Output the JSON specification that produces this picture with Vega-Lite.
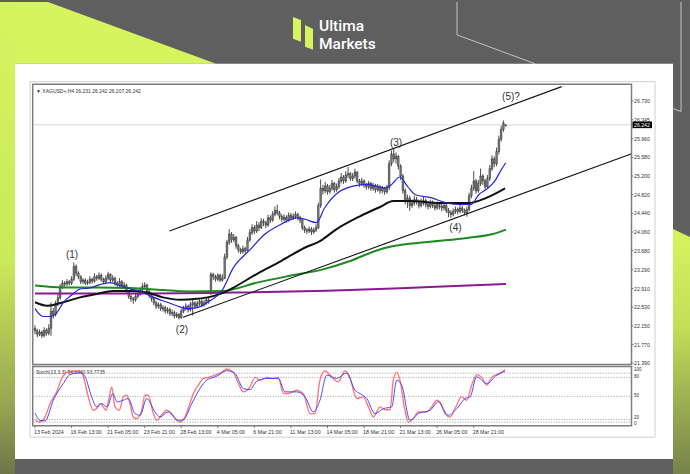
{
"$schema":"https://vega.github.io/schema/vega-lite/v6.json",
"width":690,"height":474,"padding":0,
"autosize":{"type":"fit","contains":"padding"},
"background":"#5f5f5f",
"config":{"view":{"stroke":null},"text":{"font":"Liberation Sans"}},
"resolve":{"scale":{"x":"independent","y":"independent"}},
"datasets":{
"candles":[
{"i":0,"o":22.10,"h":22.16,"l":21.98,"c":22.05},{"i":1,"o":22.05,"h":22.09,"l":21.92,"c":21.98},{"i":2,"o":21.98,"h":22.08,"l":21.94,"c":22.02},{"i":3,"o":22.02,"h":22.05,"l":21.90,"c":21.95},{"i":4,"o":21.95,"h":22.12,"l":21.92,"c":22.06},{"i":5,"o":22.06,"h":22.10,"l":21.95,"c":22.00},{"i":6,"o":22.00,"h":22.18,"l":21.96,"c":22.10},{"i":7,"o":22.10,"h":22.63,"l":21.95,"c":22.45},{"i":8,"o":22.45,"h":22.52,"l":22.30,"c":22.38},{"i":9,"o":22.38,"h":22.66,"l":22.34,"c":22.60},
{"i":10,"o":22.60,"h":22.80,"l":22.55,"c":22.72},{"i":11,"o":22.72,"h":23.00,"l":22.68,"c":22.95},{"i":12,"o":22.95,"h":23.08,"l":22.90,"c":23.02},{"i":13,"o":23.02,"h":23.06,"l":22.94,"c":23.00},{"i":14,"o":23.00,"h":23.10,"l":22.96,"c":23.05},{"i":15,"o":23.05,"h":23.08,"l":22.97,"c":23.02},{"i":16,"o":23.02,"h":23.16,"l":22.98,"c":23.10},{"i":17,"o":23.10,"h":23.44,"l":23.06,"c":23.36},{"i":18,"o":23.36,"h":23.40,"l":23.16,"c":23.22},{"i":19,"o":23.22,"h":23.26,"l":23.10,"c":23.15},
{"i":20,"o":23.15,"h":23.18,"l":23.00,"c":23.05},{"i":21,"o":23.05,"h":23.12,"l":23.00,"c":23.08},{"i":22,"o":23.08,"h":23.12,"l":22.98,"c":23.02},{"i":23,"o":23.02,"h":23.09,"l":22.98,"c":23.04},{"i":24,"o":23.04,"h":23.16,"l":23.00,"c":23.10},{"i":25,"o":23.10,"h":23.13,"l":23.01,"c":23.06},{"i":26,"o":23.06,"h":23.22,"l":23.03,"c":23.15},{"i":27,"o":23.15,"h":23.19,"l":23.07,"c":23.12},{"i":28,"o":23.12,"h":23.24,"l":23.08,"c":23.18},{"i":29,"o":23.18,"h":23.22,"l":23.05,"c":23.10},
{"i":30,"o":23.10,"h":23.13,"l":23.00,"c":23.05},{"i":31,"o":23.05,"h":23.18,"l":23.02,"c":23.12},{"i":32,"o":23.12,"h":23.25,"l":23.08,"c":23.20},{"i":33,"o":23.20,"h":23.22,"l":23.03,"c":23.08},{"i":34,"o":23.08,"h":23.18,"l":23.04,"c":23.12},{"i":35,"o":23.12,"h":23.15,"l":22.97,"c":23.02},{"i":36,"o":23.02,"h":23.06,"l":22.92,"c":22.98},{"i":37,"o":22.98,"h":23.12,"l":22.94,"c":23.05},{"i":38,"o":23.05,"h":23.08,"l":22.90,"c":22.95},{"i":39,"o":22.95,"h":23.04,"l":22.90,"c":22.98},
{"i":40,"o":22.98,"h":23.01,"l":22.80,"c":22.85},{"i":41,"o":22.85,"h":22.88,"l":22.70,"c":22.75},{"i":42,"o":22.75,"h":22.79,"l":22.64,"c":22.70},{"i":43,"o":22.70,"h":22.74,"l":22.60,"c":22.68},{"i":44,"o":22.68,"h":22.80,"l":22.64,"c":22.75},{"i":45,"o":22.75,"h":22.86,"l":22.71,"c":22.80},{"i":46,"o":22.80,"h":22.93,"l":22.76,"c":22.88},{"i":47,"o":22.88,"h":23.02,"l":22.84,"c":22.95},{"i":48,"o":22.95,"h":23.04,"l":22.90,"c":22.98},{"i":49,"o":22.98,"h":23.01,"l":22.80,"c":22.85},
{"i":50,"o":22.85,"h":22.89,"l":22.72,"c":22.78},{"i":51,"o":22.78,"h":22.82,"l":22.64,"c":22.70},{"i":52,"o":22.70,"h":22.74,"l":22.57,"c":22.62},{"i":53,"o":22.62,"h":22.66,"l":22.49,"c":22.55},{"i":54,"o":22.55,"h":22.63,"l":22.50,"c":22.58},{"i":55,"o":22.58,"h":22.62,"l":22.45,"c":22.50},{"i":56,"o":22.50,"h":22.57,"l":22.44,"c":22.52},{"i":57,"o":22.52,"h":22.56,"l":22.40,"c":22.45},{"i":58,"o":22.45,"h":22.53,"l":22.40,"c":22.48},{"i":59,"o":22.48,"h":22.52,"l":22.35,"c":22.40},
{"i":60,"o":22.40,"h":22.48,"l":22.35,"c":22.42},{"i":61,"o":22.42,"h":22.46,"l":22.30,"c":22.35},{"i":62,"o":22.35,"h":22.43,"l":22.31,"c":22.38},{"i":63,"o":22.38,"h":22.41,"l":22.28,"c":22.32},{"i":64,"o":22.32,"h":22.50,"l":22.29,"c":22.45},{"i":65,"o":22.45,"h":22.56,"l":22.41,"c":22.50},{"i":66,"o":22.50,"h":22.61,"l":22.46,"c":22.55},{"i":67,"o":22.55,"h":22.58,"l":22.42,"c":22.48},{"i":68,"o":22.48,"h":22.64,"l":22.44,"c":22.58},{"i":69,"o":22.58,"h":22.68,"l":22.36,"c":22.62},
{"i":70,"o":22.62,"h":22.65,"l":22.50,"c":22.55},{"i":71,"o":22.55,"h":22.66,"l":22.51,"c":22.60},{"i":72,"o":22.60,"h":22.71,"l":22.56,"c":22.65},{"i":73,"o":22.65,"h":22.69,"l":22.53,"c":22.58},{"i":74,"o":22.58,"h":22.68,"l":22.54,"c":22.62},{"i":75,"o":22.62,"h":22.73,"l":22.58,"c":22.68},{"i":76,"o":22.68,"h":22.74,"l":22.60,"c":22.65},{"i":77,"o":22.80,"h":23.24,"l":22.78,"c":23.20},{"i":78,"o":23.20,"h":23.23,"l":23.08,"c":23.15},{"i":79,"o":23.15,"h":23.19,"l":23.05,"c":23.10},
{"i":80,"o":23.10,"h":23.22,"l":23.06,"c":23.18},{"i":81,"o":23.18,"h":23.21,"l":23.04,"c":23.08},{"i":82,"o":23.08,"h":23.20,"l":23.05,"c":23.12},{"i":83,"o":23.12,"h":23.62,"l":23.10,"c":23.55},{"i":84,"o":23.55,"h":23.90,"l":23.50,"c":23.85},{"i":85,"o":23.85,"h":24.12,"l":23.80,"c":24.02},{"i":86,"o":24.02,"h":24.06,"l":23.84,"c":23.90},{"i":87,"o":23.90,"h":24.02,"l":23.85,"c":23.95},{"i":88,"o":23.95,"h":23.98,"l":23.72,"c":23.78},{"i":89,"o":23.78,"h":23.82,"l":23.64,"c":23.70},
{"i":90,"o":23.70,"h":23.74,"l":23.61,"c":23.66},{"i":91,"o":23.66,"h":23.78,"l":23.62,"c":23.72},{"i":92,"o":23.72,"h":23.76,"l":23.62,"c":23.68},{"i":93,"o":23.68,"h":23.96,"l":23.66,"c":23.90},{"i":94,"o":23.90,"h":24.12,"l":23.86,"c":24.05},{"i":95,"o":24.05,"h":24.22,"l":24.00,"c":24.15},{"i":96,"o":24.15,"h":24.20,"l":24.02,"c":24.08},{"i":97,"o":24.08,"h":24.28,"l":24.04,"c":24.20},{"i":98,"o":24.20,"h":24.26,"l":24.08,"c":24.15},{"i":99,"o":24.15,"h":24.34,"l":24.12,"c":24.28},
{"i":100,"o":24.28,"h":24.33,"l":24.18,"c":24.25},{"i":101,"o":24.25,"h":24.29,"l":24.14,"c":24.20},{"i":102,"o":24.20,"h":24.41,"l":24.17,"c":24.35},{"i":103,"o":24.35,"h":24.40,"l":24.24,"c":24.30},{"i":104,"o":24.30,"h":24.48,"l":24.27,"c":24.42},{"i":105,"o":24.42,"h":24.58,"l":24.38,"c":24.50},{"i":106,"o":24.50,"h":24.62,"l":24.40,"c":24.45},{"i":107,"o":24.45,"h":24.49,"l":24.32,"c":24.38},{"i":108,"o":24.38,"h":24.42,"l":24.27,"c":24.32},{"i":109,"o":24.32,"h":24.42,"l":24.28,"c":24.36},
{"i":110,"o":24.36,"h":24.40,"l":24.25,"c":24.30},{"i":111,"o":24.30,"h":24.46,"l":24.27,"c":24.40},{"i":112,"o":24.40,"h":24.45,"l":24.30,"c":24.35},{"i":113,"o":24.35,"h":24.44,"l":24.31,"c":24.38},{"i":114,"o":24.38,"h":24.48,"l":24.33,"c":24.42},{"i":115,"o":24.42,"h":24.45,"l":24.30,"c":24.35},{"i":116,"o":24.35,"h":24.39,"l":24.24,"c":24.30},{"i":117,"o":24.30,"h":24.33,"l":24.10,"c":24.15},{"i":118,"o":24.15,"h":24.19,"l":24.04,"c":24.10},{"i":119,"o":24.10,"h":24.14,"l":24.02,"c":24.08},
{"i":120,"o":24.08,"h":24.17,"l":24.04,"c":24.12},{"i":121,"o":24.12,"h":24.16,"l":24.00,"c":24.06},{"i":122,"o":24.06,"h":24.15,"l":24.02,"c":24.10},{"i":123,"o":24.10,"h":24.22,"l":24.06,"c":24.15},{"i":124,"o":24.15,"h":24.66,"l":24.12,"c":24.60},{"i":125,"o":24.60,"h":25.13,"l":24.55,"c":24.95},{"i":126,"o":24.95,"h":25.02,"l":24.82,"c":24.90},{"i":127,"o":24.90,"h":25.08,"l":24.85,"c":25.00},{"i":128,"o":25.00,"h":25.04,"l":24.82,"c":24.88},{"i":129,"o":24.88,"h":25.02,"l":24.84,"c":24.95},
{"i":130,"o":24.95,"h":25.12,"l":24.90,"c":25.05},{"i":131,"o":25.05,"h":25.08,"l":24.86,"c":24.92},{"i":132,"o":24.92,"h":25.05,"l":24.88,"c":24.98},{"i":133,"o":24.98,"h":25.16,"l":24.94,"c":25.10},{"i":134,"o":25.10,"h":25.26,"l":25.05,"c":25.18},{"i":135,"o":25.18,"h":25.22,"l":25.04,"c":25.10},{"i":136,"o":25.10,"h":25.30,"l":25.06,"c":25.22},{"i":137,"o":25.22,"h":25.38,"l":25.16,"c":25.25},{"i":138,"o":25.25,"h":25.28,"l":25.10,"c":25.15},{"i":139,"o":25.15,"h":25.26,"l":25.10,"c":25.20},
{"i":140,"o":25.20,"h":25.35,"l":25.15,"c":25.28},{"i":141,"o":25.28,"h":25.30,"l":25.05,"c":25.10},{"i":142,"o":25.10,"h":25.14,"l":24.98,"c":25.05},{"i":143,"o":25.05,"h":25.16,"l":25.00,"c":25.10},{"i":144,"o":25.10,"h":25.13,"l":24.96,"c":25.02},{"i":145,"o":25.02,"h":25.06,"l":24.92,"c":24.98},{"i":146,"o":24.98,"h":25.10,"l":24.93,"c":25.05},{"i":147,"o":25.05,"h":25.08,"l":24.90,"c":24.95},{"i":148,"o":24.95,"h":25.06,"l":24.90,"c":25.00},{"i":149,"o":25.00,"h":25.04,"l":24.86,"c":24.92},
{"i":150,"o":24.92,"h":25.04,"l":24.88,"c":24.98},{"i":151,"o":24.98,"h":25.02,"l":24.84,"c":24.90},{"i":152,"o":24.90,"h":25.00,"l":24.85,"c":24.95},{"i":153,"o":24.95,"h":24.98,"l":24.82,"c":24.88},{"i":154,"o":24.88,"h":25.02,"l":24.84,"c":24.96},{"i":155,"o":24.96,"h":25.52,"l":24.92,"c":25.45},{"i":156,"o":25.45,"h":25.72,"l":25.40,"c":25.65},{"i":157,"o":25.65,"h":25.76,"l":25.48,"c":25.55},{"i":158,"o":25.55,"h":25.68,"l":25.45,"c":25.60},{"i":159,"o":25.60,"h":25.63,"l":25.33,"c":25.40},
{"i":160,"o":25.40,"h":25.44,"l":25.12,"c":25.20},{"i":161,"o":25.20,"h":25.24,"l":24.84,"c":24.90},{"i":162,"o":24.90,"h":24.95,"l":24.62,"c":24.70},{"i":163,"o":24.70,"h":24.82,"l":24.55,"c":24.75},{"i":164,"o":24.75,"h":24.80,"l":24.49,"c":24.60},{"i":165,"o":24.60,"h":24.72,"l":24.55,"c":24.65},{"i":166,"o":24.65,"h":24.80,"l":24.60,"c":24.72},{"i":167,"o":24.72,"h":24.78,"l":24.62,"c":24.68},{"i":168,"o":24.68,"h":24.72,"l":24.54,"c":24.60},{"i":169,"o":24.60,"h":24.74,"l":24.56,"c":24.65},
{"i":170,"o":24.65,"h":24.78,"l":24.60,"c":24.70},{"i":171,"o":24.70,"h":24.74,"l":24.56,"c":24.62},{"i":172,"o":24.62,"h":24.68,"l":24.52,"c":24.58},{"i":173,"o":24.58,"h":24.72,"l":24.54,"c":24.66},{"i":174,"o":24.66,"h":24.70,"l":24.55,"c":24.60},{"i":175,"o":24.60,"h":24.64,"l":24.50,"c":24.55},{"i":176,"o":24.55,"h":24.68,"l":24.51,"c":24.62},{"i":177,"o":24.62,"h":24.67,"l":24.52,"c":24.58},{"i":178,"o":24.58,"h":24.63,"l":24.48,"c":24.55},{"i":179,"o":24.55,"h":24.66,"l":24.50,"c":24.60},
{"i":180,"o":24.60,"h":24.64,"l":24.45,"c":24.50},{"i":181,"o":24.50,"h":24.55,"l":24.36,"c":24.45},{"i":182,"o":24.45,"h":24.50,"l":24.35,"c":24.42},{"i":183,"o":24.42,"h":24.54,"l":24.38,"c":24.48},{"i":184,"o":24.48,"h":24.58,"l":24.43,"c":24.52},{"i":185,"o":24.52,"h":24.56,"l":24.42,"c":24.48},{"i":186,"o":24.48,"h":24.61,"l":24.44,"c":24.55},{"i":187,"o":24.55,"h":24.60,"l":24.45,"c":24.50},{"i":188,"o":24.50,"h":24.54,"l":24.40,"c":24.45},{"i":189,"o":24.45,"h":24.58,"l":24.37,"c":24.52},
{"i":190,"o":24.52,"h":24.86,"l":24.48,"c":24.80},{"i":191,"o":24.80,"h":25.02,"l":24.75,"c":24.95},{"i":192,"o":24.95,"h":25.30,"l":24.90,"c":25.10},{"i":193,"o":25.10,"h":25.14,"l":24.84,"c":24.90},{"i":194,"o":24.90,"h":25.12,"l":24.86,"c":25.05},{"i":195,"o":25.05,"h":25.35,"l":25.00,"c":25.20},{"i":196,"o":25.20,"h":25.24,"l":25.02,"c":25.10},{"i":197,"o":25.10,"h":25.14,"l":24.92,"c":24.98},{"i":198,"o":24.98,"h":25.22,"l":24.94,"c":25.15},{"i":199,"o":25.15,"h":25.42,"l":25.10,"c":25.35},
{"i":200,"o":25.35,"h":25.62,"l":25.30,"c":25.55},{"i":201,"o":25.55,"h":25.60,"l":25.38,"c":25.45},{"i":202,"o":25.45,"h":25.78,"l":25.40,"c":25.70},{"i":203,"o":25.70,"h":26.02,"l":25.64,"c":25.95},{"i":204,"o":25.95,"h":26.22,"l":25.90,"c":26.15},{"i":205,"o":26.15,"h":26.33,"l":26.10,"c":26.28},{"i":206,"o":26.231,"h":26.242,"l":26.207,"c":26.242}
],
"maBlue":[{"i":0,"p":22.50},{"i":3.5,"p":22.34},{"i":6.6,"p":22.34},{"i":9.6,"p":22.42},{"i":12.3,"p":22.62},{"i":16.6,"p":22.80},{"i":19.7,"p":22.90},{"i":24.1,"p":22.92},{"i":28.4,"p":22.99},{"i":32.8,"p":23.03},{"i":37.2,"p":22.97},{"i":41.6,"p":22.90},{"i":46,"p":22.86},{"i":50.3,"p":22.76},{"i":56,"p":22.66},{"i":62.1,"p":22.56},{"i":66.5,"p":22.50},{"i":70.9,"p":22.52},{"i":76.6,"p":22.66},{"i":81.7,"p":22.86},{"i":86.9,"p":23.34},{"i":93.7,"p":23.68},{"i":100.7,"p":24.02},{"i":107.7,"p":24.22},{"i":114.7,"p":24.35},{"i":118.2,"p":24.32},{"i":123.2,"p":24.25},{"i":126.7,"p":24.55},{"i":131.7,"p":24.83},{"i":138.7,"p":24.99},{"i":145.7,"p":25.03},{"i":152.7,"p":24.96},{"i":156.1,"p":25.03},{"i":159.6,"p":25.18},{"i":163,"p":24.99},{"i":166.5,"p":24.82},{"i":173.3,"p":24.76},{"i":180.3,"p":24.65},{"i":185.6,"p":24.62},{"i":190.8,"p":24.62},{"i":194.2,"p":24.82},{"i":197.6,"p":24.93},{"i":201.1,"p":25.09},{"i":203.7,"p":25.30},{"i":206,"p":25.47}],
"maBlack":[{"i":0,"p":22.63},{"i":5.3,"p":22.56},{"i":12.3,"p":22.63},{"i":19.7,"p":22.73},{"i":27.1,"p":22.80},{"i":34.1,"p":22.86},{"i":41.6,"p":22.86},{"i":49,"p":22.83},{"i":56,"p":22.73},{"i":63.5,"p":22.68},{"i":70.9,"p":22.70},{"i":76.6,"p":22.74},{"i":82.3,"p":22.82},{"i":86.9,"p":22.93},{"i":97.2,"p":23.21},{"i":107.7,"p":23.47},{"i":118,"p":23.74},{"i":124.9,"p":23.88},{"i":131.7,"p":24.11},{"i":142.2,"p":24.38},{"i":151,"p":24.57},{"i":156.8,"p":24.69},{"i":164.1,"p":24.69},{"i":177.2,"p":24.65},{"i":189.5,"p":24.65},{"i":197.7,"p":24.76},{"i":205.7,"p":24.95}],
"maGreen":[{"i":0,"p":22.97},{"i":12.3,"p":22.93},{"i":27.1,"p":22.93},{"i":41.6,"p":22.92},{"i":56,"p":22.88},{"i":67.8,"p":22.85},{"i":82.3,"p":22.86},{"i":97.2,"p":23.03},{"i":111.6,"p":23.17},{"i":126,"p":23.30},{"i":137.9,"p":23.47},{"i":149.2,"p":23.68},{"i":155.4,"p":23.76},{"i":172.9,"p":23.86},{"i":189.1,"p":23.94},{"i":200.4,"p":24.02},{"i":206.1,"p":24.11}],
"maPurple":[{"i":0,"p":22.81},{"i":50.3,"p":22.81},{"i":76.6,"p":22.82},{"i":137.9,"p":22.88},{"i":172.9,"p":22.94},{"i":206.1,"p":23.00}],
"stochK":[{"i":0,"s":7},{"i":2.2,"s":4},{"i":4.4,"s":13},{"i":6.6,"s":37},{"i":9.5,"s":58},{"i":11.7,"s":82},{"i":13.9,"s":93},{"i":16.1,"s":95},{"i":19.7,"s":95},{"i":21.1,"s":87},{"i":23.3,"s":49},{"i":25.5,"s":25},{"i":27,"s":28},{"i":28.4,"s":37},{"i":29.9,"s":31},{"i":31.1,"s":25},{"i":32.5,"s":49},{"i":33.6,"s":67},{"i":35,"s":31},{"i":36.9,"s":25},{"i":38.6,"s":49},{"i":40.1,"s":52},{"i":41.6,"s":37},{"i":43,"s":13},{"i":44.5,"s":10},{"i":46.7,"s":25},{"i":48.1,"s":52},{"i":49.6,"s":52},{"i":51.8,"s":19},{"i":53.3,"s":7},{"i":55.4,"s":16},{"i":57.6,"s":25},{"i":59.1,"s":22},{"i":62,"s":7},{"i":63.5,"s":4},{"i":65.6,"s":13},{"i":67.8,"s":37},{"i":69.3,"s":55},{"i":71.5,"s":70},{"i":73.7,"s":82},{"i":75.8,"s":84},{"i":78.8,"s":88},{"i":81.7,"s":93},{"i":83.9,"s":99},{"i":86.8,"s":93},{"i":89,"s":73},{"i":91.2,"s":58},{"i":94.1,"s":67},{"i":96.3,"s":84},{"i":98.5,"s":79},{"i":101.4,"s":84},{"i":104.3,"s":82},{"i":106.5,"s":84},{"i":108.7,"s":55},{"i":110.9,"s":55},{"i":114.5,"s":61},{"i":117.4,"s":55},{"i":120.4,"s":19},{"i":122.5,"s":19},{"i":124.7,"s":79},{"i":126.9,"s":96},{"i":129.1,"s":88},{"i":132.7,"s":76},{"i":135.7,"s":96},{"i":137.9,"s":82},{"i":140.8,"s":46},{"i":143.7,"s":49},{"i":145.9,"s":31},{"i":148.1,"s":13},{"i":151,"s":31},{"i":153.2,"s":26},{"i":155.4,"s":26},{"i":156.8,"s":79},{"i":158.3,"s":93},{"i":159.7,"s":79},{"i":161.9,"s":25},{"i":163.4,"s":4},{"i":165.6,"s":10},{"i":167.7,"s":22},{"i":171.4,"s":22},{"i":173.6,"s":31},{"i":175.8,"s":43},{"i":177.2,"s":40},{"i":179.4,"s":19},{"i":181.6,"s":13},{"i":183.8,"s":28},{"i":186.7,"s":49},{"i":188.9,"s":43},{"i":191.1,"s":70},{"i":193.3,"s":89},{"i":195.5,"s":84},{"i":197.7,"s":70},{"i":199.9,"s":84},{"i":202.1,"s":89},{"i":204.2,"s":93},{"i":205.7,"s":98}],
"stochD":[{"i":0,"s":20},{"i":2.2,"s":7},{"i":4.4,"s":6},{"i":8,"s":43},{"i":12.4,"s":73},{"i":15.3,"s":89},{"i":19.7,"s":92},{"i":21.9,"s":85},{"i":24.8,"s":49},{"i":27,"s":31},{"i":29.2,"s":37},{"i":31.6,"s":31},{"i":34,"s":55},{"i":36,"s":40},{"i":38.6,"s":43},{"i":40.8,"s":46},{"i":43.8,"s":19},{"i":46,"s":16},{"i":48.9,"s":46},{"i":52.5,"s":22},{"i":54.7,"s":13},{"i":58.3,"s":22},{"i":62.7,"s":7},{"i":64.9,"s":8},{"i":68.6,"s":37},{"i":72.2,"s":64},{"i":75.1,"s":79},{"i":79.5,"s":86},{"i":83.9,"s":96},{"i":87.5,"s":91},{"i":91.2,"s":64},{"i":94.1,"s":62},{"i":97,"s":77},{"i":101.4,"s":82},{"i":106.5,"s":82},{"i":109.4,"s":58},{"i":114.5,"s":58},{"i":118.2,"s":49},{"i":121.8,"s":22},{"i":124.7,"s":43},{"i":127.7,"s":88},{"i":132,"s":82},{"i":136.4,"s":92},{"i":140,"s":61},{"i":142.2,"s":55},{"i":145.2,"s":46},{"i":148.8,"s":19},{"i":152.5,"s":28},{"i":156.1,"s":31},{"i":158.3,"s":79},{"i":160.5,"s":70},{"i":164.1,"s":7},{"i":167.7,"s":19},{"i":172.9,"s":25},{"i":176.5,"s":40},{"i":180.9,"s":16},{"i":184.6,"s":28},{"i":188.2,"s":46},{"i":190.4,"s":49},{"i":193.3,"s":85},{"i":197.7,"s":73},{"i":202.1,"s":88},{"i":205.7,"s":95}],
"priceLabels":[{"p":26.73,"t":"26.730"},{"p":26.345,"t":"26.345"},{"p":25.96,"t":"25.960"},{"p":25.58,"t":"25.580"},{"p":25.2,"t":"25.200"},{"p":24.82,"t":"24.820"},{"p":24.44,"t":"24.440"},{"p":24.06,"t":"24.060"},{"p":23.68,"t":"23.680"},{"p":23.29,"t":"23.290"},{"p":22.91,"t":"22.910"},{"p":22.53,"t":"22.530"},{"p":22.15,"t":"22.150"},{"p":21.77,"t":"21.770"},{"p":21.39,"t":"21.390"}],
"dateLabels":[{"i":0,"t":"13 Feb 2024"},{"i":16,"t":"16 Feb 13:00"},{"i":32,"t":"21 Feb 05:00"},{"i":48,"t":"23 Feb 21:00"},{"i":64,"t":"28 Feb 13:00"},{"i":80,"t":"4 Mar 05:00"},{"i":96,"t":"6 Mar 21:00"},{"i":112,"t":"11 Mar 13:00"},{"i":128,"t":"14 Mar 05:00"},{"i":144,"t":"18 Mar 21:00"},{"i":160,"t":"21 Mar 13:00"},{"i":176,"t":"26 Mar 05:00"},{"i":192,"t":"28 Mar 21:00"}]
},
"layer":[
{"data":{"values":[{"x":0,"x2":15,"y":0,"y2":474}]},
 "mark":{"type":"rect","fill":{"gradient":"linear","x1":0,"y1":0,"x2":0,"y2":1,"stops":[{"offset":0,"color":"#d4f55e"},{"offset":0.55,"color":"#c9ea5a"},{"offset":0.85,"color":"#98a651"},{"offset":1,"color":"#6e7648"}]}},
 "encoding":{"x":{"field":"x","type":"quantitative","scale":{"domain":[0,690],"nice":false,"zero":false},"axis":null},"x2":{"field":"x2"},"y":{"field":"y","type":"quantitative","scale":{"domain":[0,474],"reverse":true,"nice":false,"zero":false},"axis":null},"y2":{"field":"y2"}}},
{"data":{"values":[{"x":15,"y":0,"y2":62},{"x":48,"y":0,"y2":62},{"x":216,"y":62,"y2":62}]},
 "mark":{"type":"area","color":"#d4f55e"},
 "encoding":{"x":{"field":"x","type":"quantitative","scale":{"domain":[0,690],"nice":false,"zero":false},"axis":null},"y":{"field":"y","type":"quantitative","scale":{"domain":[0,474],"reverse":true,"nice":false,"zero":false},"axis":null},"y2":{"field":"y2"}}},
{"data":{"values":[{"x":673,"y":228,"y2":474},{"x":690,"y":236,"y2":474}]},
 "mark":{"type":"area","fill":{"gradient":"linear","x1":0,"y1":0,"x2":0,"y2":1,"stops":[{"offset":0,"color":"#d4f55e"},{"offset":0.4,"color":"#c2de58"},{"offset":1,"color":"#78824a"}]}},
 "encoding":{"x":{"field":"x","type":"quantitative","scale":{"domain":[0,690],"nice":false,"zero":false},"axis":null},"y":{"field":"y","type":"quantitative","scale":{"domain":[0,474],"reverse":true,"nice":false,"zero":false},"axis":null},"y2":{"field":"y2"}}},
{"data":{"values":[{"g":1,"o":0,"x":457,"y":0},{"g":1,"o":1,"x":457,"y":33},{"g":1,"o":2,"x":535,"y":62},{"g":2,"o":0,"x":681,"y":0},{"g":2,"o":1,"x":681,"y":110},{"g":2,"o":2,"x":673,"y":107}]},
 "mark":{"type":"line","color":"#c4c4c4","strokeWidth":1},
 "encoding":{"x":{"field":"x","type":"quantitative","scale":{"domain":[0,690],"nice":false,"zero":false},"axis":null},"y":{"field":"y","type":"quantitative","scale":{"domain":[0,474],"reverse":true,"nice":false,"zero":false},"axis":null},"detail":{"field":"g"},"order":{"field":"o"}}},
{"data":{"values":[{"x":15,"x2":673,"y":62,"y2":459}]},
 "mark":{"type":"rect","color":"#ffffff"},
 "encoding":{"x":{"field":"x","type":"quantitative","scale":{"domain":[0,690],"nice":false,"zero":false},"axis":null},"x2":{"field":"x2"},"y":{"field":"y","type":"quantitative","scale":{"domain":[0,474],"reverse":true,"nice":false,"zero":false},"axis":null},"y2":{"field":"y2"}}},
{"data":{"values":[{"g":"a","x":293,"y":15,"y2":37},{"g":"a","x":301,"y":18,"y2":40},{"g":"b","x":305,"y":23,"y2":45},{"g":"b","x":313,"y":27,"y2":48}]},
 "mark":{"type":"area","color":"#d4f55e"},
 "encoding":{"x":{"field":"x","type":"quantitative","scale":{"domain":[0,690],"nice":false,"zero":false},"axis":null},"y":{"field":"y","type":"quantitative","scale":{"domain":[0,474],"reverse":true,"nice":false,"zero":false},"axis":null},"y2":{"field":"y2"},"detail":{"field":"g"}}},
{"data":{"values":[{"t":"Ultima","x":319,"y":29.5},{"t":"Markets","x":319,"y":47.5}]},
 "mark":{"type":"text","align":"left","baseline":"alphabetic","font":"Roboto","fontSize":15.5,"fontWeight":500,"color":"#ffffff"},
 "encoding":{"x":{"field":"x","type":"quantitative","scale":{"domain":[0,690],"nice":false,"zero":false},"axis":null},"y":{"field":"y","type":"quantitative","scale":{"domain":[0,474],"reverse":true,"nice":false,"zero":false},"axis":null},"text":{"field":"t"}}},
{"data":{"values":[{"x":30,"x2":655,"y":80,"y2":437}]},
 "mark":{"type":"rect","filled":false,"stroke":"#cfcfcf","strokeWidth":1},
 "encoding":{"x":{"field":"x","type":"quantitative","scale":{"domain":[0,690],"nice":false,"zero":false},"axis":null},"x2":{"field":"x2"},"y":{"field":"y","type":"quantitative","scale":{"domain":[0,474],"reverse":true,"nice":false,"zero":false},"axis":null},"y2":{"field":"y2"}}},
{"data":{"values":[{"x":32.7,"x2":631.5,"y":82.7,"y2":364},{"x":32.7,"x2":631.5,"y":366,"y2":425.5}]},
 "mark":{"type":"rect","filled":false,"stroke":"#7d7d7d","strokeWidth":1.5},
 "encoding":{"x":{"field":"x","type":"quantitative","scale":{"domain":[0,690],"nice":false,"zero":false},"axis":null},"x2":{"field":"x2"},"y":{"field":"y","type":"quantitative","scale":{"domain":[0,474],"reverse":true,"nice":false,"zero":false},"axis":null},"y2":{"field":"y2"}}},
{"data":{"values":[{"p":26.242}]},
 "mark":{"type":"rule","color":"#d6d6d6","strokeWidth":1},
 "encoding":{"x":{"datum":33.5,"type":"quantitative","scale":{"domain":[0,690],"nice":false,"zero":false},"axis":null},"x2":{"datum":631},"y":{"field":"p","type":"quantitative","scale":{"domain":[19.134,28.743],"nice":false,"zero":false},"axis":null}}},
{"data":{"name":"candles"},
 "mark":{"type":"rule","color":"#1e1e1e","strokeWidth":0.8},
 "encoding":{"x":{"field":"i","type":"quantitative","scale":{"domain":[-15.317,286.65],"nice":false,"zero":false},"axis":null},"y":{"field":"l","type":"quantitative","scale":{"domain":[19.134,28.743],"nice":false,"zero":false},"axis":null},"y2":{"field":"h"}}},
{"data":{"name":"candles"},
 "mark":{"type":"bar","width":1.6,"fill":"#858585","stroke":"#141414","strokeWidth":0.45},
 "encoding":{"x":{"field":"i","type":"quantitative","scale":{"domain":[-15.317,286.65],"nice":false,"zero":false,"padding":0},"axis":null},"y":{"field":"o","type":"quantitative","scale":{"domain":[19.134,28.743],"nice":false,"zero":false},"axis":null},"y2":{"field":"c"}}},
{"data":{"name":"maPurple"},
 "mark":{"type":"line","color":"#8a1a8f","strokeWidth":2,"interpolate":"monotone"},
 "encoding":{"x":{"field":"i","type":"quantitative","scale":{"domain":[-15.317,286.65],"nice":false,"zero":false},"axis":null},"y":{"field":"p","type":"quantitative","scale":{"domain":[19.134,28.743],"nice":false,"zero":false},"axis":null}}},
{"data":{"name":"maGreen"},
 "mark":{"type":"line","color":"#1f8a1f","strokeWidth":2,"interpolate":"monotone"},
 "encoding":{"x":{"field":"i","type":"quantitative","scale":{"domain":[-15.317,286.65],"nice":false,"zero":false},"axis":null},"y":{"field":"p","type":"quantitative","scale":{"domain":[19.134,28.743],"nice":false,"zero":false},"axis":null}}},
{"data":{"name":"maBlack"},
 "mark":{"type":"line","color":"#111111","strokeWidth":2,"interpolate":"monotone"},
 "encoding":{"x":{"field":"i","type":"quantitative","scale":{"domain":[-15.317,286.65],"nice":false,"zero":false},"axis":null},"y":{"field":"p","type":"quantitative","scale":{"domain":[19.134,28.743],"nice":false,"zero":false},"axis":null}}},
{"data":{"name":"maBlue"},
 "mark":{"type":"line","color":"#2424d8","strokeWidth":1.2,"interpolate":"monotone"},
 "encoding":{"x":{"field":"i","type":"quantitative","scale":{"domain":[-15.317,286.65],"nice":false,"zero":false},"axis":null},"y":{"field":"p","type":"quantitative","scale":{"domain":[19.134,28.743],"nice":false,"zero":false},"axis":null}}},
{"data":{"values":[{"i":58.86,"i2":230.5,"p":24.08,"p2":27.02},{"i":64.77,"i2":260.8,"p":22.323,"p2":25.648}]},
 "mark":{"type":"rule","color":"#111111","strokeWidth":1.1},
 "encoding":{"x":{"field":"i","type":"quantitative","scale":{"domain":[-15.317,286.65],"nice":false,"zero":false},"axis":null},"x2":{"field":"i2"},"y":{"field":"p","type":"quantitative","scale":{"domain":[19.134,28.743],"nice":false,"zero":false},"axis":null},"y2":{"field":"p2"}}},
{"data":{"values":[{"i":16.2,"p":23.59,"t":"(1)"},{"i":64.3,"p":22.07,"t":"(2)"},{"i":158,"p":25.87,"t":"(3)"},{"i":184,"p":24.15,"t":"(4)"},{"i":208.3,"p":26.80,"t":"(5)?"}]},
 "mark":{"type":"text","align":"center","baseline":"middle","fontSize":10,"color":"#333333"},
 "encoding":{"x":{"field":"i","type":"quantitative","scale":{"domain":[-15.317,286.65],"nice":false,"zero":false},"axis":null},"y":{"field":"p","type":"quantitative","scale":{"domain":[19.134,28.743],"nice":false,"zero":false},"axis":null},"text":{"field":"t"}}},
{"data":{"name":"priceLabels"},
 "mark":{"type":"rule","color":"#555555","strokeWidth":0.7},
 "encoding":{"x":{"datum":631.5,"type":"quantitative","scale":{"domain":[0,690],"nice":false,"zero":false},"axis":null},"x2":{"datum":633.5},"y":{"field":"p","type":"quantitative","scale":{"domain":[19.134,28.743],"nice":false,"zero":false},"axis":null}}},
{"data":{"name":"priceLabels"},
 "mark":{"type":"text","align":"left","baseline":"middle","fontSize":5.2,"color":"#333333"},
 "encoding":{"x":{"datum":634,"type":"quantitative","scale":{"domain":[0,690],"nice":false,"zero":false},"axis":null},"y":{"field":"p","type":"quantitative","scale":{"domain":[19.134,28.743],"nice":false,"zero":false},"axis":null},"text":{"field":"t"}}},
{"data":{"values":[{"p":26.242,"t":"26.242"}]},
 "mark":{"type":"rect","color":"#000000"},
 "encoding":{"x":{"datum":632.5,"type":"quantitative","scale":{"domain":[0,690],"nice":false,"zero":false},"axis":null},"x2":{"datum":652},"y":{"datum":26.31,"type":"quantitative","scale":{"domain":[19.134,28.743],"nice":false,"zero":false},"axis":null},"y2":{"datum":26.175}}},
{"data":{"values":[{"p":26.242,"t":"26.242"}]},
 "mark":{"type":"text","align":"left","baseline":"middle","fontSize":5.2,"color":"#ffffff"},
 "encoding":{"x":{"datum":634,"type":"quantitative","scale":{"domain":[0,690],"nice":false,"zero":false},"axis":null},"y":{"field":"p","type":"quantitative","scale":{"domain":[19.134,28.743],"nice":false,"zero":false},"axis":null},"text":{"field":"t"}}},
{"data":{"values":[{"t":"▼ XAGUSD+,H4  26.231 26.242 26.207 26.242","x":36,"y":89.3},{"t":"Stoch(13,3,3) 94.8440 93.7735","x":36,"y":371.5}]},
 "mark":{"type":"text","align":"left","baseline":"middle","fontSize":5,"color":"#333333"},
 "encoding":{"x":{"field":"x","type":"quantitative","scale":{"domain":[0,690],"nice":false,"zero":false},"axis":null},"y":{"field":"y","type":"quantitative","scale":{"domain":[0,474],"reverse":true,"nice":false,"zero":false},"axis":null},"text":{"field":"t"}}},
{"data":{"values":[{"s":91.6},{"s":83.9},{"s":50},{"s":8.4},{"s":3.6}]},
 "mark":{"type":"rule","color":"#9a9a9a","strokeWidth":0.8,"strokeDash":[1.2,1.4]},
 "encoding":{"x":{"datum":33.5,"type":"quantitative","scale":{"domain":[0,690],"nice":false,"zero":false},"axis":null},"x2":{"datum":631},"y":{"field":"s","type":"quantitative","scale":{"domain":[-89.29,757.14],"nice":false,"zero":false},"axis":null}}},
{"data":{"name":"stochK"},
 "mark":{"type":"line","color":"#ff4f4f","strokeWidth":1.4,"opacity":0.75,"interpolate":"monotone"},
 "encoding":{"x":{"field":"i","type":"quantitative","scale":{"domain":[-15.317,286.65],"nice":false,"zero":false},"axis":null},"y":{"field":"s","type":"quantitative","scale":{"domain":[-89.29,757.14],"nice":false,"zero":false},"axis":null}}},
{"data":{"name":"stochD"},
 "mark":{"type":"line","color":"#4a4aff","strokeWidth":1,"interpolate":"monotone"},
 "encoding":{"x":{"field":"i","type":"quantitative","scale":{"domain":[-15.317,286.65],"nice":false,"zero":false},"axis":null},"y":{"field":"s","type":"quantitative","scale":{"domain":[-89.29,757.14],"nice":false,"zero":false},"axis":null}}},
{"data":{"values":[{"s":97.7,"t":"100"},{"s":84.5,"t":"80"},{"s":50,"t":"50"},{"s":11,"t":"20"},{"s":0.5,"t":"0"}]},
 "mark":{"type":"text","align":"left","baseline":"middle","fontSize":4.6,"color":"#333333"},
 "encoding":{"x":{"datum":634,"type":"quantitative","scale":{"domain":[0,690],"nice":false,"zero":false},"axis":null},"y":{"field":"s","type":"quantitative","scale":{"domain":[-89.29,757.14],"nice":false,"zero":false},"axis":null},"text":{"field":"t"}}},
{"data":{"name":"dateLabels"},
 "mark":{"type":"rule","color":"#555555","strokeWidth":0.7},
 "encoding":{"x":{"field":"i","type":"quantitative","scale":{"domain":[-15.317,286.65],"nice":false,"zero":false},"axis":null},"y":{"datum":425.5,"type":"quantitative","scale":{"domain":[0,474],"reverse":true,"nice":false,"zero":false},"axis":null},"y2":{"datum":428}}},
{"data":{"name":"dateLabels"},
 "mark":{"type":"text","align":"left","baseline":"middle","fontSize":5.3,"dx":-1,"color":"#333333"},
 "encoding":{"x":{"field":"i","type":"quantitative","scale":{"domain":[-15.317,286.65],"nice":false,"zero":false},"axis":null},"y":{"datum":431.5,"type":"quantitative","scale":{"domain":[0,474],"reverse":true,"nice":false,"zero":false},"axis":null},"text":{"field":"t"}}}
]
}
